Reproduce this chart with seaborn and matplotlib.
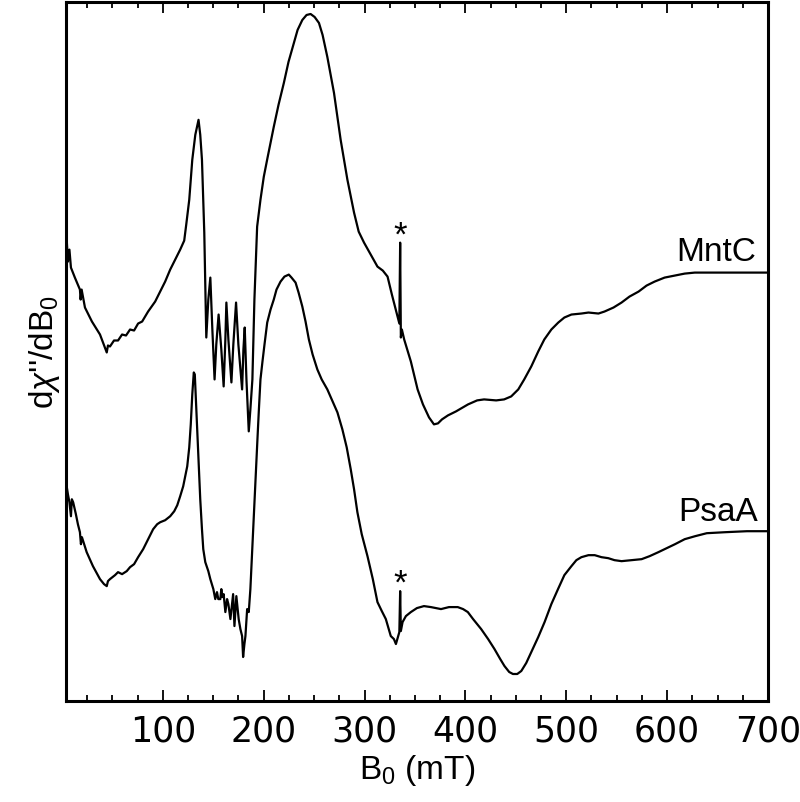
import pandas as pd
import seaborn as sns
from matplotlib import pyplot as plt
from matplotlib.ticker import MultipleLocator

# field (mT) and signal (a.u., already offset for stacking)
mntc_field = [3.9, 5.9, 7.4, 8.9, 12.8, 17.8, 18.5, 19.5, 22.8, 29.7,
              37.7, 44.4, 45.6, 47.6, 51.6, 55.6, 59.6, 63.5, 67.5, 71.5,
              75.5, 79.5, 85.4, 92.4, 97.4, 102.3, 107.3, 112.3, 117.2, 121.2,
              123.2, 126.2, 129.2, 132.2, 135.4, 137.1, 138.8, 141.1, 143.1, 145.1,
              147.1, 149.1, 151.3, 153.0, 155.3, 158.0, 160.3, 162.0, 163.0, 165.0,
              168.0, 169.9, 172.6, 174.9, 178.6, 179.9, 181.2, 182.9, 185.2, 186.8,
              188.8, 190.8, 193.5, 196.8, 200.1, 203.8, 210.0, 214.7, 220.0, 224.6,
              229.9, 233.6, 238.3, 242.5, 246.5, 250.5, 254.8, 258.4, 263.1, 269.7,
              276.3, 283.0, 289.6, 294.2, 299.5, 306.2, 312.8, 318.1, 322.8, 327.1,
              332.7, 334.5, 335.3, 336.0, 337.0, 339.3, 345.9, 352.6, 357.9, 363.9,
              368.8, 372.8, 376.8, 382.7, 390.7, 402.6, 411.6, 418.5, 430.5, 438.4,
              445.4, 452.4, 458.3, 465.3, 472.2, 478.2, 485.2, 492.1, 498.1, 505.1,
              515.0, 522.0, 531.9, 537.9, 546.8, 554.8, 562.7, 571.7, 579.6, 587.6,
              597.5, 607.5, 617.4, 627.4, 644.3, 657.2, 679.1, 700]
mntc_signal = [477, 440, 452, 434, 424, 412, 402, 412, 394, 380,
               367, 349, 356, 355, 361, 361, 367, 366, 372, 371,
               378, 380, 390, 400, 410, 420, 432, 442, 452, 461,
               477, 502, 542, 567, 582, 567, 542, 469, 364, 402,
               424, 372, 322, 357, 387, 352, 315, 362, 399, 362,
               319, 357, 399, 357, 312, 352, 374, 322, 270, 292,
               322, 402, 475, 502, 525, 544, 575, 597, 619, 640,
               659, 672, 682, 687, 688, 685, 679, 667, 645, 609,
               562, 522, 489, 470, 459, 447, 435, 431, 425, 407,
               385, 378, 459, 364, 372, 362, 340, 312, 297, 284,
               277, 278, 282, 286, 290, 297, 301, 302, 301, 302,
               305, 312, 322, 335, 350, 362, 372, 379, 384, 387,
               388, 389, 388, 390, 394, 399, 405, 410, 416, 420,
               424, 426, 428, 429, 429, 429, 429, 429]

psaa_field = [3.9, 5.9, 7.4, 8.9, 9.8, 11.1, 13.8, 15.8, 17.8, 18.8,
              19.8, 24.5, 30.7, 37.7, 41.7, 44.4, 45.6, 47.6, 52.6, 55.6,
              59.6, 64.2, 67.5, 71.5, 75.5, 80.5, 85.4, 90.4, 94.4, 97.4,
              102.3, 107.3, 111.3, 114.3, 117.2, 120.2, 122.2, 124.2, 126.2, 127.7,
              129.2, 130.7, 131.7, 133.2, 135.4, 137.1, 138.8, 140.1, 142.1, 145.1,
              147.1, 150.1, 152.0, 153.7, 155.0, 157.0, 158.0, 159.0, 160.3, 162.0,
              163.7, 165.0, 167.0, 169.7, 171.0, 172.9, 175.2, 176.9, 178.6, 179.6,
              180.9, 181.9, 183.6, 185.2, 186.8, 188.5, 190.3, 191.8, 193.8, 195.1,
              196.8, 198.8, 200.8, 203.5, 206.8, 210.0, 212.7, 216.7, 220.6, 224.9,
              227.6, 231.6, 234.6, 238.3, 241.5, 244.8, 248.5, 253.2, 257.5, 263.1,
              267.4, 273.1, 278.0, 282.3, 286.3, 289.6, 292.9, 297.2, 302.9, 308.2,
              312.8, 317.1, 321.1, 326.0, 329.1, 331.1, 333.1, 334.5, 335.3, 336.0,
              337.7, 341.0, 345.9, 351.9, 358.9, 365.8, 375.8, 383.7, 392.4, 397.7,
              402.4, 407.6, 415.6, 422.5, 428.8, 434.5, 438.7, 443.4, 447.1, 451.4,
              455.4, 460.3, 465.3, 472.2, 478.5, 485.2, 491.8, 498.1, 505.1, 510.0,
              515.0, 522.0, 528.2, 534.9, 541.6, 547.8, 554.8, 564.7, 574.7, 582.6,
              591.3, 599.6, 607.8, 617.4, 627.7, 639.3, 657.5, 679.1, 700]
psaa_signal = [220, 207, 199, 185, 202, 199, 187, 177, 169, 157,
               164, 149, 135, 122, 117, 115, 120, 122, 126, 129,
               127, 130, 134, 137, 144, 152, 162, 172, 177, 179,
               181, 185, 190, 196, 205, 215, 225, 235, 254, 277,
               307, 329, 327, 292, 239, 202, 172, 152, 139, 130,
               122, 112, 102, 109, 102, 102, 112, 104, 107, 89,
               102, 97, 82, 107, 75, 105, 82, 72, 65, 44,
               57, 65, 92, 89, 112, 149, 187, 222, 262, 289,
               322, 340, 357, 379, 392, 402, 412, 420, 425, 427,
               424, 419, 409, 395, 380, 362, 347, 332, 322, 312,
               302, 289, 272, 254, 232, 212, 189, 167, 145, 122,
               99, 90, 82, 65, 62, 57, 64, 69, 110, 70,
               79, 85, 89, 93, 95, 94, 92, 94, 94, 92,
               89, 82, 72, 62, 52, 42, 35, 29, 27, 27,
               30, 38, 49, 64, 79, 97, 112, 126, 135, 141,
               144, 146, 146, 144, 143, 141, 140, 141, 142, 145,
               149, 153, 157, 162, 165, 168, 169, 170, 170]

mntc = pd.DataFrame({'B0': mntc_field, 'signal': mntc_signal})
psaa = pd.DataFrame({'B0': psaa_field, 'signal': psaa_signal})

sns.set_style("ticks")
plt.rcParams['font.family'] = ['DejaVu Sans']
plt.rcParams['text.color'] = 'black'
plt.rcParams['axes.labelcolor'] = 'black'
plt.rcParams['xtick.color'] = 'black'
plt.rcParams['axes.edgecolor'] = 'black'
plt.rcParams['mathtext.fontset'] = 'custom'
plt.rcParams['mathtext.rm'] = 'Liberation Sans'
plt.rcParams['mathtext.it'] = 'Liberation Sans:italic'

fig = plt.figure(figsize=(8, 8.02), dpi=100)
ax = fig.add_axes([0.0825, 0.126, 0.8775, 0.8715])

sns.lineplot(data=mntc, x='B0', y='signal', sort=False, estimator=None,
             color='black', lw=1.6, ax=ax)
sns.lineplot(data=psaa, x='B0', y='signal', sort=False, estimator=None,
             color='black', lw=1.6, ax=ax)

# labels
ax.text(688, 449, 'MntC', ha='right', va='center', fontsize=24, family='Liberation Sans')
ax.text(690, 189, 'PsaA', ha='right', va='center', fontsize=24, family='Liberation Sans')
ax.text(335.3, 466, '*', ha='center', va='center', fontsize=25, family='Liberation Sans')
ax.text(335.3, 117, '*', ha='center', va='center', fontsize=25, family='Liberation Sans')

ax.set_xlim(4, 700)
ax.set_ylim(0, 700)
ax.set_yticks([])
ax.xaxis.set_major_locator(MultipleLocator(100))
ax.xaxis.set_minor_locator(MultipleLocator(25))
ax.tick_params(axis='x', which='both', direction='in', top=True, labelsize=25, pad=10)
ax.tick_params(axis='x', which='major', length=8, width=1.3)
ax.tick_params(axis='x', which='minor', length=4, width=1.3)
for s in ax.spines.values():
    s.set_linewidth(2.2)

ax.set_xlabel('B$_0$ (mT)', fontsize=24, family='Liberation Sans', labelpad=3)
ax.set_ylabel("d$\\chi$''/dB$_0$", fontsize=24, family='Liberation Sans', labelpad=3)

plt.savefig("out.png", dpi=100)
